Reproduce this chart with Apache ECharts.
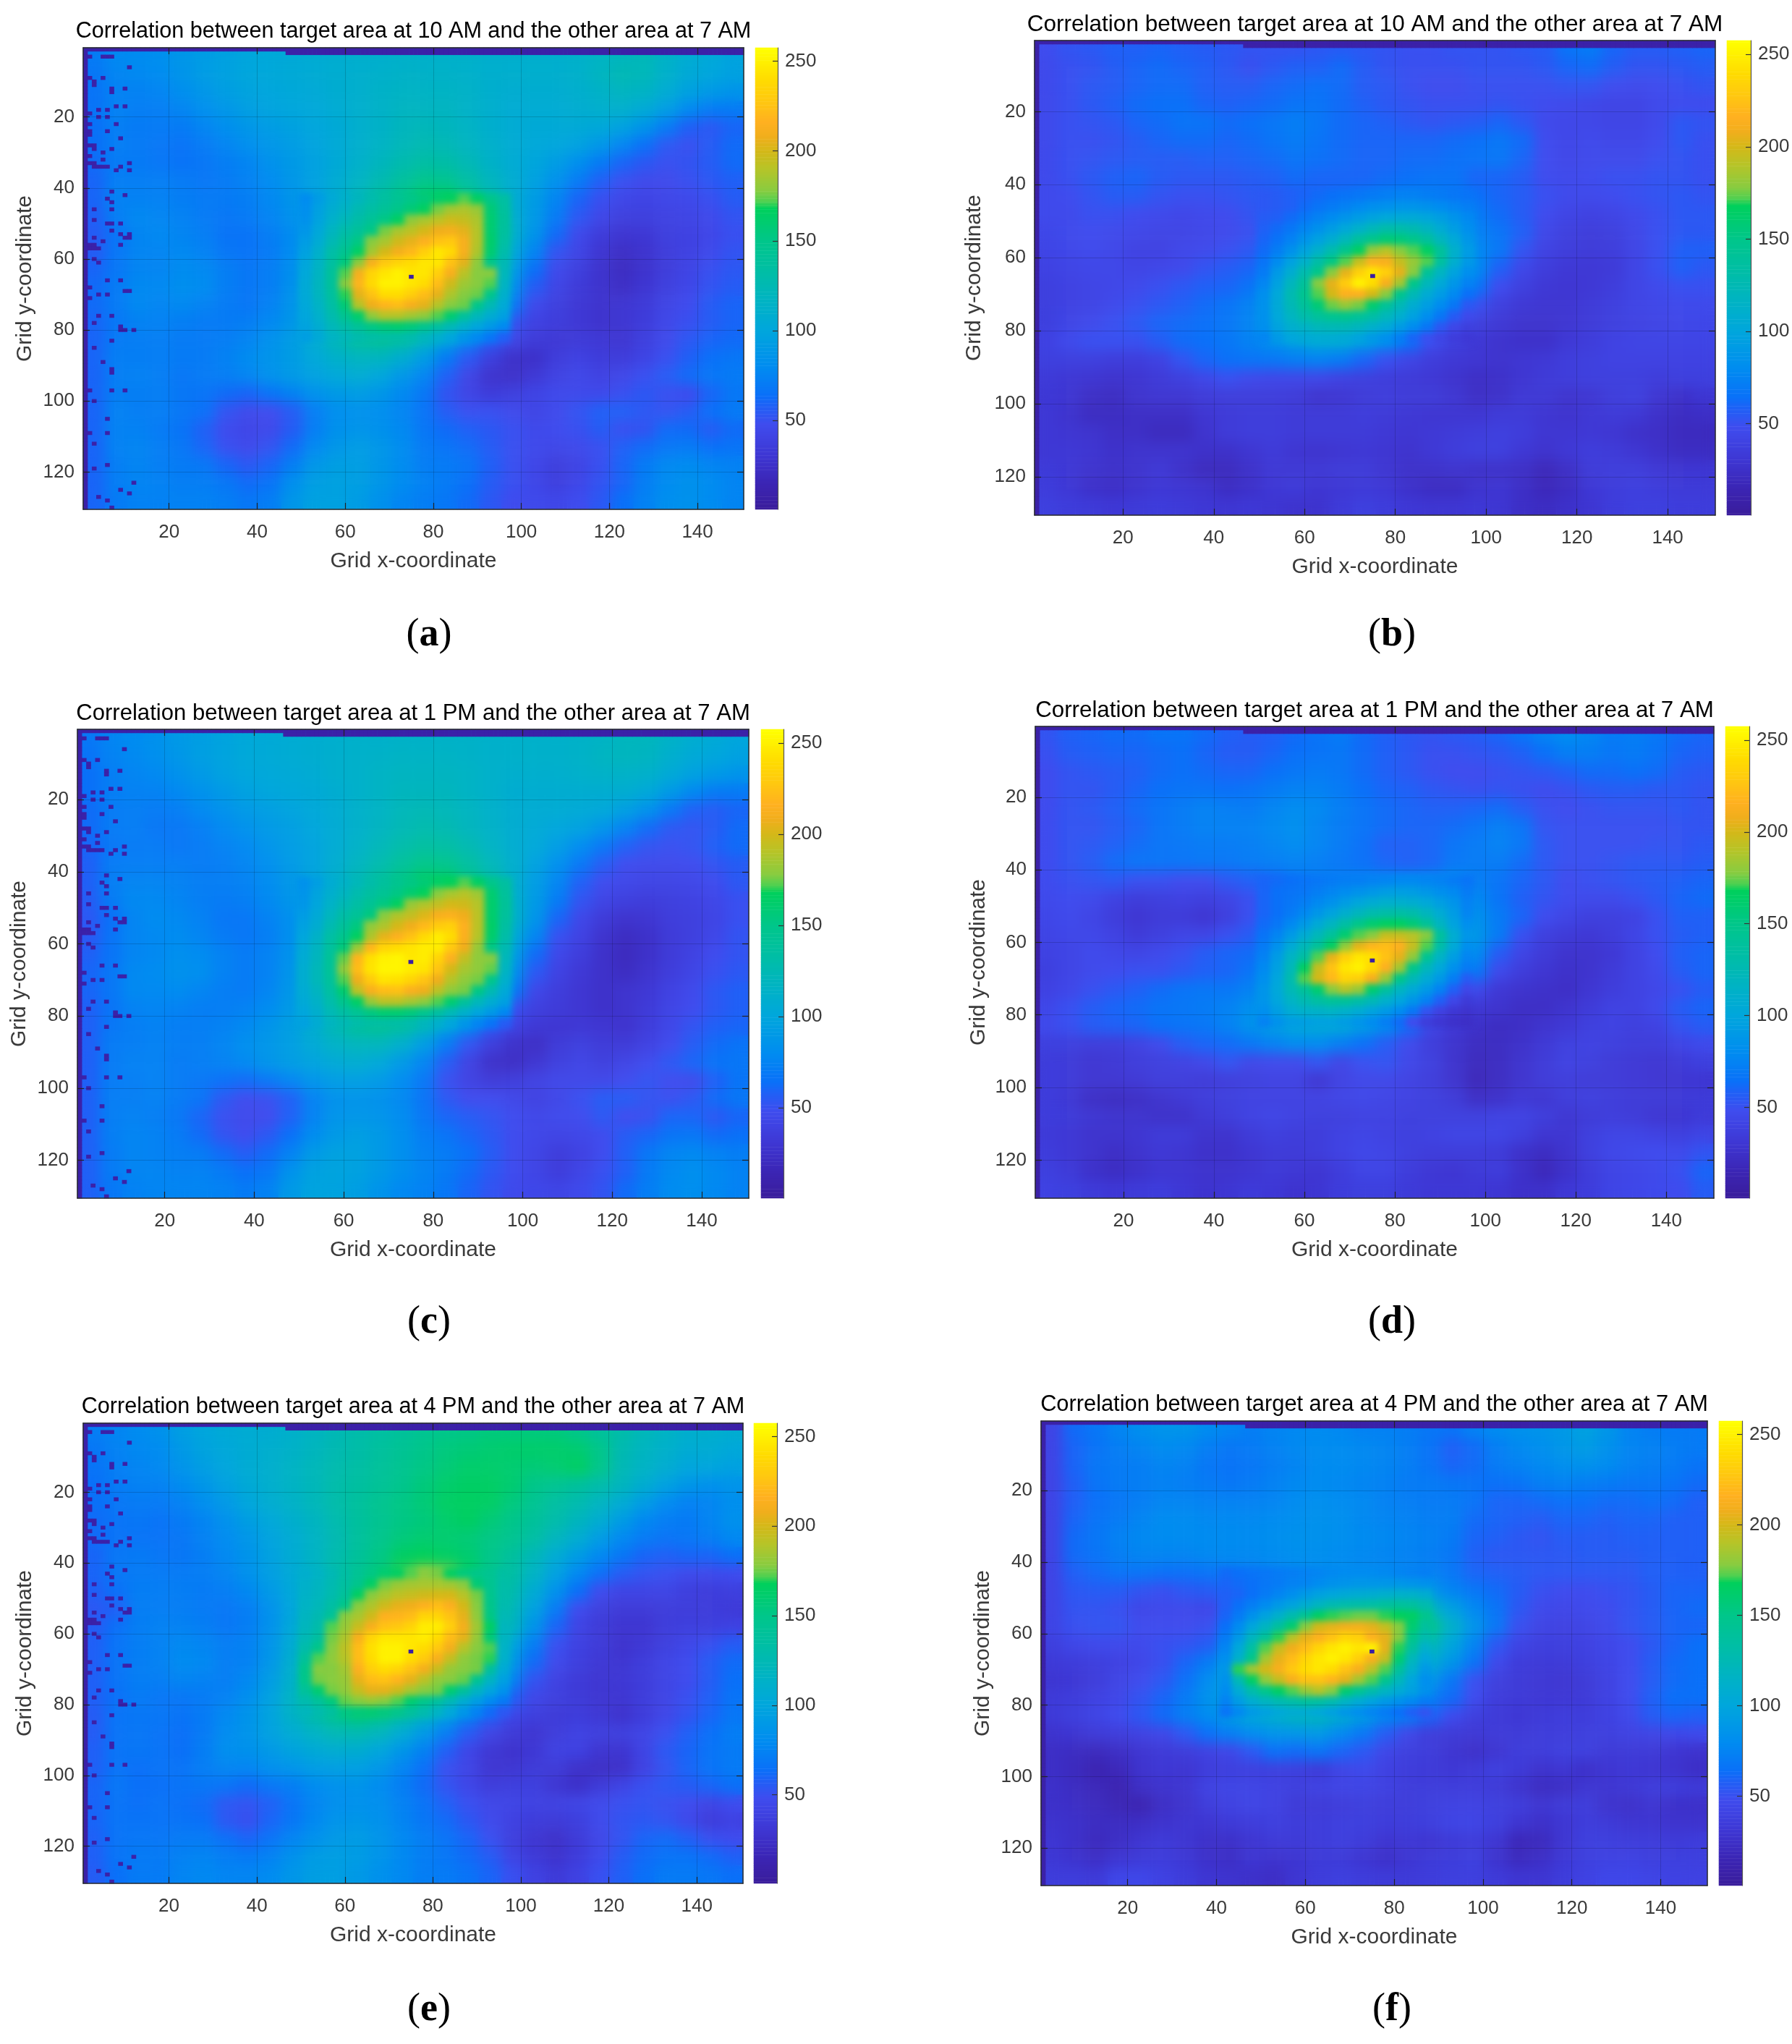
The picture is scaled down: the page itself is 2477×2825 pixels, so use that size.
<!DOCTYPE html>
<html><head><meta charset="utf-8"><style>html,body{margin:0;padding:0;background:#fff}#c{width:2477px;height:2825px}</style>
<script src="https://cdn.jsdelivr.net/npm/echarts@6/dist/echarts.min.js"></script></head><body><div id="c"></div>
<script>
// Coarse readings: one value per 5x5 grid units (30 columns, 26 rows).
const baseA=[
[70,78,80,82,88,92,96,100,102,104,106,108,110,110,112,112,112,112,110,110,110,110,112,116,120,122,114,106,102,98],
[68,76,78,80,86,92,96,100,102,104,106,108,110,112,114,114,114,112,110,110,110,110,112,118,124,122,112,104,100,96],
[66,74,74,76,82,88,94,98,100,102,104,108,110,114,116,116,116,114,110,108,108,108,110,114,118,116,106,96,90,86],
[66,74,72,72,76,82,88,94,98,100,102,106,110,114,118,118,118,114,110,106,106,106,108,110,110,104,92,78,70,70],
[64,72,70,70,70,76,82,88,92,96,100,104,110,114,120,122,120,116,110,106,104,104,104,102,96,86,70,58,54,60],
[64,72,70,68,66,70,76,82,88,92,98,104,110,116,122,126,124,118,112,106,102,100,96,88,76,64,54,50,56,62],
[62,70,70,68,66,68,72,76,84,90,96,104,112,120,128,134,132,124,114,106,100,92,82,70,60,54,50,52,56,62],
[60,72,72,72,70,68,70,74,80,88,96,106,116,126,138,148,146,134,120,108,96,84,70,58,50,46,46,50,54,58],
[60,74,74,74,72,70,70,72,78,86,96,108,122,136,150,162,165,148,128,108,92,76,60,50,44,42,44,46,50,56],
[58,72,78,76,74,70,68,70,76,84,94,110,128,148,165,178,182,162,134,110,90,70,54,44,38,38,40,42,46,52],
[56,66,76,78,76,72,66,66,72,80,94,112,136,160,182,205,195,170,138,112,86,62,46,36,30,32,38,40,44,50],
[56,68,76,76,78,74,68,66,70,80,96,118,144,178,196,220,205,178,136,104,76,52,42,30,24,28,36,40,46,52],
[60,68,76,76,80,78,72,68,72,82,100,124,160,215,240,230,200,165,128,94,64,46,38,28,22,28,36,42,50,54],
[62,70,78,78,82,80,72,68,72,84,102,128,170,225,245,225,190,170,122,84,56,42,34,28,24,30,38,44,52,56],
[62,70,78,76,78,74,70,68,74,86,102,128,176,205,212,190,165,138,100,70,46,38,32,28,30,34,42,48,56,60],
[60,68,74,74,72,70,70,72,78,88,104,126,154,176,170,152,130,104,78,52,40,36,32,28,30,36,44,50,56,60],
[60,70,72,72,70,70,72,76,84,92,106,122,136,140,132,116,96,76,56,42,34,32,34,32,30,38,46,54,60,62],
[60,72,72,72,70,70,74,80,86,92,102,112,118,118,108,92,70,54,38,26,26,36,40,36,36,42,50,58,64,68],
[60,72,74,72,68,70,72,76,84,90,96,102,106,100,88,76,58,42,28,26,32,40,44,40,44,50,56,62,68,70],
[60,72,72,72,68,66,62,60,66,74,84,90,92,88,78,68,52,42,36,38,42,46,46,46,50,54,50,48,60,68],
[60,74,72,72,68,64,52,46,48,56,72,82,84,82,76,66,56,50,50,46,42,46,52,58,58,54,52,56,64,70],
[60,74,74,70,66,58,48,44,46,56,72,84,86,84,78,68,62,58,54,50,46,48,50,56,50,52,62,62,56,62],
[60,74,76,72,68,60,50,46,52,62,78,88,92,88,80,70,66,62,56,50,46,44,46,50,58,62,68,70,64,66],
[60,72,76,72,70,68,60,54,60,72,88,94,94,88,80,72,70,66,58,50,44,38,42,50,60,70,78,80,76,74],
[60,72,76,74,72,72,68,62,66,82,94,96,94,88,80,74,70,64,56,50,44,38,44,52,60,72,80,84,80,76],
[60,70,74,74,74,74,72,68,72,88,96,96,92,84,76,72,68,62,54,48,46,44,48,54,64,74,82,84,80,76]];
const baseB=[
[48,52,54,58,58,60,58,56,54,52,52,52,54,56,54,52,50,50,52,52,52,54,56,66,70,60,56,56,58,60],
[46,50,52,56,60,62,60,58,54,50,54,58,58,62,56,52,50,50,50,52,52,52,54,60,62,56,52,52,54,56],
[46,50,54,56,60,62,62,58,56,56,60,62,64,62,56,54,50,48,48,50,50,50,50,52,52,48,46,48,50,52],
[46,50,54,58,62,64,64,60,58,60,62,66,66,62,58,54,52,50,50,50,52,50,48,46,44,42,42,46,48,48],
[46,50,52,54,60,62,66,66,62,64,68,72,68,62,60,58,54,52,54,56,60,54,46,44,44,42,42,46,54,52],
[46,50,50,52,56,60,62,62,60,62,66,70,66,62,60,60,60,60,62,64,68,62,48,44,46,44,44,48,54,50],
[46,50,52,54,56,56,56,58,58,60,62,66,64,62,60,60,62,62,64,66,68,60,48,44,46,46,46,50,52,50],
[46,50,54,58,60,56,54,54,54,56,58,62,60,60,60,62,64,66,66,60,60,56,48,46,48,50,50,52,52,50],
[46,48,52,56,56,52,50,50,52,54,56,58,60,62,66,70,72,70,68,64,60,56,50,46,46,48,50,52,54,52],
[46,46,50,50,48,46,44,46,48,52,54,56,62,72,82,88,90,86,80,70,62,56,48,42,40,42,46,50,54,54],
[44,46,48,46,44,42,42,44,46,50,54,60,72,84,100,118,120,108,90,74,66,58,44,38,36,38,44,50,54,54],
[42,44,46,44,40,40,44,46,50,54,60,72,92,118,165,172,172,135,100,78,68,52,40,36,34,36,42,50,58,58],
[40,42,44,44,42,44,46,52,56,60,70,88,125,180,225,220,185,135,100,78,58,44,36,32,32,34,42,50,58,54],
[38,40,42,44,46,50,54,58,60,66,80,105,155,215,240,205,150,115,88,66,48,38,32,30,32,36,42,46,50,50],
[38,40,42,46,50,54,58,62,66,74,90,112,160,195,180,145,112,90,70,50,38,32,30,30,34,38,42,44,46,46],
[38,42,46,50,54,60,62,64,68,76,88,105,125,135,125,110,88,68,50,38,32,28,28,30,34,38,40,42,44,44],
[40,46,50,50,50,56,62,64,68,74,82,92,102,102,92,80,64,48,38,32,28,26,26,32,36,40,42,42,42,42],
[38,38,38,36,36,40,52,60,64,66,68,72,74,70,60,50,42,36,32,30,28,30,32,36,38,40,40,40,40,40],
[34,32,30,28,30,34,38,44,50,46,44,44,44,40,38,36,34,32,28,24,26,30,34,36,38,38,38,36,38,38],
[32,30,24,22,28,30,30,34,36,36,36,34,28,30,34,36,34,34,30,24,26,32,32,28,30,36,38,30,26,30],
[32,28,22,22,24,24,24,30,34,36,36,34,34,34,36,34,32,30,30,30,34,34,30,28,32,34,32,26,22,24],
[32,30,28,24,24,20,20,28,34,36,36,34,34,34,34,32,30,32,34,36,38,36,30,30,32,30,26,24,20,20],
[32,32,30,26,28,28,28,26,26,30,34,30,28,30,32,30,28,32,36,38,38,32,28,32,36,34,30,26,22,22],
[34,32,28,26,28,32,26,20,20,26,32,32,32,34,34,30,26,26,28,26,26,24,18,24,34,36,36,32,30,30],
[36,32,26,24,28,32,30,28,22,26,32,34,30,32,34,32,26,22,22,28,30,24,18,22,32,36,38,36,34,34],
[38,36,34,32,34,36,34,32,30,32,30,28,28,34,38,36,32,30,30,32,30,24,22,26,30,36,38,38,36,36]];
const baseC=[
[68,76,80,84,90,94,98,102,104,106,108,110,112,112,114,114,114,114,112,112,112,112,114,116,120,120,114,108,104,100],
[66,74,78,82,88,94,98,102,104,106,108,110,112,114,116,116,116,114,112,112,112,112,114,118,120,118,110,104,100,96],
[64,72,76,78,84,90,96,100,102,104,106,110,112,116,118,118,118,116,112,110,110,110,112,114,114,112,104,96,90,86],
[64,72,74,74,78,84,90,96,100,102,104,108,112,116,120,120,120,116,112,108,108,108,108,108,108,102,90,78,70,70],
[62,70,72,70,72,78,84,90,94,98,102,106,112,116,122,124,122,118,112,108,106,106,104,102,94,84,68,58,56,60],
[62,70,72,68,68,72,78,84,90,94,100,106,112,118,124,128,126,120,114,108,104,100,96,86,74,62,54,52,56,62],
[60,68,70,70,68,70,74,78,86,92,98,106,114,122,130,136,134,126,116,108,102,92,80,68,58,52,50,52,58,62],
[58,70,72,72,72,70,72,76,82,90,98,108,118,128,140,150,148,136,122,110,96,82,68,56,48,46,46,48,52,56],
[58,72,76,76,74,72,72,74,80,88,98,110,124,138,152,165,165,150,130,110,92,76,58,48,44,42,42,44,48,54],
[56,70,78,78,76,72,70,72,78,86,96,112,130,150,168,180,184,165,136,112,90,70,52,42,38,36,38,40,44,50],
[54,64,76,80,78,74,68,68,74,82,96,114,138,162,184,208,198,172,140,114,86,60,44,34,28,30,36,38,42,50],
[54,66,76,78,80,76,70,68,72,82,98,120,146,180,198,222,208,178,138,104,76,50,40,28,22,26,34,38,44,52],
[58,66,76,78,82,80,74,70,74,84,102,126,162,218,242,232,202,168,130,94,62,44,36,26,20,26,34,40,48,52],
[60,68,78,80,84,82,74,70,74,86,104,130,172,228,248,228,192,172,124,84,54,40,32,26,22,28,36,42,50,54],
[60,68,78,78,80,76,72,70,76,88,104,130,178,208,214,192,168,140,100,70,44,36,30,26,28,32,40,46,54,58],
[58,66,74,76,74,72,72,74,80,90,106,128,156,178,172,154,132,104,78,50,38,34,30,26,28,34,42,48,54,58],
[58,68,72,74,72,72,74,78,86,94,108,124,138,142,134,118,96,76,54,40,32,30,32,30,28,36,44,52,58,60],
[58,70,72,74,72,72,76,82,88,94,104,114,120,120,110,92,70,52,36,26,24,34,38,34,34,40,48,56,62,66],
[58,70,74,74,70,72,74,78,86,92,98,104,108,102,90,76,56,40,26,24,30,38,42,38,42,48,54,60,66,68],
[58,70,72,74,70,68,64,62,68,76,86,92,94,90,80,68,50,40,34,36,40,44,44,44,48,52,48,46,58,66],
[58,72,72,74,70,66,54,48,50,58,74,84,86,84,78,66,54,48,48,44,40,44,50,56,56,52,50,54,62,68],
[58,72,74,72,68,60,50,46,48,58,74,86,88,86,80,68,60,56,52,48,44,46,48,54,48,50,60,60,54,60],
[58,72,76,74,70,62,52,48,54,64,80,90,94,90,82,72,66,60,54,48,44,42,44,48,56,60,66,68,62,64],
[58,70,76,74,72,70,62,56,62,74,90,96,96,90,82,74,70,64,56,48,42,36,40,48,58,68,76,78,74,72],
[58,70,76,76,74,74,70,64,68,84,96,98,96,90,82,76,70,62,54,48,42,36,42,50,58,70,78,82,78,74],
[58,68,74,76,76,76,74,70,74,90,98,98,94,86,78,74,68,60,52,46,44,42,46,52,62,72,80,82,78,74]];
const baseD=[
[52,58,60,62,62,66,66,62,58,56,58,62,66,70,62,58,54,52,54,56,60,66,74,80,76,70,72,68,62,60],
[50,56,58,60,60,62,64,60,56,56,60,64,66,68,62,58,54,50,50,52,54,58,64,72,72,68,70,66,60,58],
[48,52,54,56,58,62,64,62,60,60,64,68,70,68,62,58,54,50,48,48,50,52,54,58,62,62,64,62,56,54],
[48,52,52,56,60,64,66,66,64,66,70,74,74,70,64,60,58,54,52,50,52,50,48,50,54,56,56,54,54,52],
[48,52,54,58,62,66,70,74,72,70,76,80,78,72,66,62,60,58,58,60,62,56,50,48,50,52,52,52,54,52],
[48,52,52,56,60,66,70,74,74,74,78,82,76,70,66,62,60,60,62,66,72,66,52,50,50,50,50,50,52,52],
[48,52,54,58,62,66,68,70,70,72,76,80,76,70,64,58,58,60,66,70,74,68,54,50,50,50,50,52,52,54],
[48,52,56,62,66,66,66,68,68,70,72,74,72,68,64,60,58,60,68,70,70,62,54,50,50,52,54,54,54,56],
[48,50,52,54,50,50,48,48,54,58,62,68,72,72,74,74,76,76,78,72,66,60,54,48,50,52,54,56,58,60],
[46,48,46,40,36,38,40,38,42,50,56,62,72,78,84,88,90,90,88,78,66,58,52,48,46,46,50,54,60,62],
[44,46,42,36,30,34,34,30,38,50,58,68,80,92,108,122,125,120,104,84,70,60,48,42,38,38,40,50,58,58],
[42,44,44,40,34,38,42,42,50,56,66,82,102,130,165,176,178,150,108,88,70,50,38,34,32,36,42,50,56,58],
[40,42,46,44,42,46,50,56,60,62,74,98,140,200,225,220,190,135,104,80,56,42,34,28,28,32,40,48,58,60],
[38,42,46,48,50,50,54,58,60,66,84,118,178,230,232,205,150,118,92,68,46,36,30,26,28,34,40,46,56,60],
[40,44,50,54,58,62,66,68,68,74,90,122,170,190,175,140,112,92,70,46,32,28,26,24,30,36,40,44,50,56],
[44,50,56,60,62,66,68,70,74,82,94,112,130,136,122,108,90,70,46,32,28,24,24,28,34,40,40,46,56,60],
[46,50,56,58,60,64,66,68,74,84,92,100,104,102,92,80,62,42,32,26,22,24,28,32,38,40,38,40,52,56],
[38,38,36,36,40,46,56,60,62,68,74,80,80,72,64,56,46,36,28,22,22,26,32,38,40,38,36,36,42,46],
[36,34,30,32,36,38,40,44,52,44,46,46,52,42,50,52,44,38,28,20,22,28,34,40,38,34,32,30,34,38],
[36,34,30,30,32,36,36,34,36,38,40,40,30,40,44,44,40,36,28,18,22,28,34,36,34,34,32,30,30,30],
[36,32,24,22,24,28,32,36,38,40,40,40,40,42,44,42,40,38,34,24,26,32,30,36,38,36,34,34,34,34],
[36,34,30,28,28,26,26,32,36,40,42,40,38,38,40,40,38,38,38,38,40,40,36,30,34,36,34,30,30,34],
[34,32,28,28,30,34,34,28,28,34,38,36,36,40,42,40,38,40,42,42,42,38,30,30,38,42,42,40,38,42],
[36,32,28,24,28,32,30,26,26,30,34,34,36,40,44,42,38,36,36,36,34,26,22,28,38,44,46,48,46,52],
[38,34,26,22,26,30,30,28,28,30,34,32,30,36,42,42,36,32,30,34,36,26,18,26,36,42,44,46,50,60],
[40,38,34,32,34,36,32,28,30,34,32,28,30,36,38,38,34,32,32,32,30,26,26,32,36,42,44,46,48,56]];
const baseE=[
[72,76,80,84,94,100,104,106,108,112,118,124,130,135,140,145,150,152,155,155,155,155,150,140,130,122,116,110,110,108],
[68,74,78,80,90,98,102,106,110,114,120,126,132,138,144,150,155,158,160,162,162,162,160,150,126,118,112,106,106,102],
[66,72,76,78,86,94,100,106,110,116,122,128,134,140,146,152,158,162,162,160,158,160,165,150,124,116,108,100,100,96],
[64,70,74,74,80,88,96,104,110,116,122,130,136,142,148,156,162,165,165,160,150,145,138,130,120,108,96,88,84,86],
[64,68,70,70,74,82,90,100,108,114,122,130,138,146,152,158,165,166,165,155,145,135,128,118,106,92,80,74,76,82],
[62,66,68,66,70,76,84,94,102,110,118,128,138,146,152,156,162,166,158,150,140,130,120,108,92,78,72,70,76,84],
[62,66,66,66,68,74,80,88,98,106,116,126,138,148,156,160,160,158,152,146,134,120,108,92,78,70,66,68,72,78],
[60,68,70,68,68,72,78,86,96,106,116,128,140,152,165,168,165,160,150,138,122,106,92,78,68,60,58,60,60,64],
[60,68,70,70,70,72,76,84,94,104,116,130,144,156,170,178,175,165,150,134,116,96,78,64,56,52,50,46,46,48],
[58,64,72,72,72,70,72,78,90,102,116,132,148,165,185,190,190,175,150,128,106,84,64,48,42,42,42,38,36,38],
[54,58,72,72,72,70,68,72,84,100,118,140,165,188,205,215,205,178,148,122,96,70,48,38,34,34,36,36,36,34],
[56,64,72,74,74,72,68,72,84,102,124,150,178,210,225,240,215,182,150,118,86,60,42,34,30,30,36,38,38,40],
[58,66,72,74,78,76,72,74,86,106,128,155,195,240,250,240,205,172,135,100,72,50,40,34,28,32,38,44,50,56],
[58,66,72,74,80,78,72,74,88,110,135,165,205,240,245,220,190,172,125,90,62,46,38,32,30,36,42,48,56,62],
[58,66,72,72,76,74,72,78,92,112,140,176,210,222,210,190,172,135,105,76,52,40,34,30,32,36,42,48,56,64],
[58,64,70,68,68,70,74,82,96,116,138,166,192,195,182,160,132,108,82,58,44,38,34,30,30,36,42,50,58,66],
[56,66,68,68,66,70,78,86,98,114,130,146,156,150,132,116,96,76,58,44,38,34,36,32,28,36,44,52,60,68],
[56,66,68,66,64,70,80,86,96,106,116,124,126,120,106,90,72,56,42,34,30,36,40,38,38,42,50,58,64,72],
[58,66,68,66,64,72,82,84,90,98,104,108,108,100,88,74,58,44,32,28,32,40,40,30,30,42,54,60,66,70],
[58,66,64,66,66,72,76,76,82,86,92,94,94,88,76,64,50,42,30,30,34,34,26,24,26,40,52,60,66,70],
[60,68,64,64,66,68,66,62,68,72,80,84,86,80,72,62,52,44,36,38,38,30,26,34,42,50,54,56,60,64],
[60,66,64,66,64,62,54,52,58,66,76,82,84,82,74,66,58,50,44,42,40,40,42,46,50,52,50,48,42,48],
[60,66,66,66,66,64,54,50,60,68,78,86,88,84,76,68,62,54,46,40,36,34,38,46,52,54,52,46,36,40],
[58,66,68,68,70,70,64,60,66,76,84,90,92,86,78,72,66,60,50,38,30,26,34,44,52,60,62,58,50,48],
[58,66,70,70,74,76,72,70,74,84,92,94,92,86,78,72,68,62,56,42,34,28,36,46,56,62,66,66,62,58],
[56,64,70,70,76,78,76,76,80,88,94,94,90,84,78,72,70,66,60,50,40,34,40,50,58,64,70,70,68,64]];
const baseF=[
[42,62,68,76,82,86,86,80,76,72,76,78,80,78,74,74,72,68,66,74,80,84,86,90,96,88,76,72,70,70],
[42,60,66,72,76,80,78,72,68,70,74,78,80,80,78,76,72,66,58,62,72,78,82,88,92,84,76,74,72,70],
[42,60,68,70,72,76,74,68,66,68,72,76,80,80,78,76,72,66,60,62,70,74,78,82,84,80,74,72,70,66],
[42,58,66,70,72,74,72,70,68,70,74,78,80,78,76,74,70,70,68,66,64,66,72,74,72,70,68,68,66,62],
[42,58,64,68,72,76,76,74,74,74,76,80,82,80,78,74,72,70,70,66,60,60,62,64,64,62,62,64,62,58],
[42,60,66,70,76,80,80,78,78,78,80,82,84,82,78,76,74,72,72,62,60,58,56,60,60,58,60,60,58,58],
[42,62,68,74,78,80,80,80,80,80,82,84,84,82,80,78,76,74,70,60,58,54,52,56,56,56,58,58,58,58],
[42,62,66,72,76,76,76,78,78,78,80,82,82,80,78,76,74,72,68,58,54,54,54,54,56,56,56,58,58,58],
[42,58,62,66,66,64,64,66,70,72,76,78,80,80,78,78,76,74,68,60,58,56,54,54,54,54,54,58,58,58],
[42,54,56,56,52,50,54,56,60,66,72,78,84,88,90,92,92,88,76,68,62,56,50,48,48,50,52,56,60,60],
[42,52,52,50,44,46,46,44,52,66,76,88,102,114,122,130,130,120,96,78,66,54,46,44,46,48,52,56,60,62],
[42,50,52,52,48,48,48,50,60,74,96,130,165,178,178,170,170,150,112,86,68,50,42,40,42,46,52,56,60,60],
[38,44,46,46,46,50,52,56,72,105,160,208,225,238,240,215,150,125,100,76,54,42,38,38,40,44,48,54,60,64],
[34,36,38,40,44,50,60,70,90,140,195,235,250,245,225,175,130,108,88,66,46,36,34,34,38,42,48,56,62,64],
[30,32,36,42,48,54,64,80,100,135,180,225,225,205,160,125,104,88,68,50,38,34,32,30,34,40,48,56,62,64],
[34,36,40,44,52,60,70,84,100,118,140,160,160,148,122,100,82,72,62,48,36,34,32,32,34,40,48,58,64,64],
[34,38,42,48,54,62,72,80,92,102,110,118,120,108,94,78,72,60,48,38,34,32,34,36,36,40,46,56,60,58],
[28,30,34,36,40,44,54,64,72,80,86,88,90,78,68,56,44,36,34,32,34,34,36,36,38,38,40,42,44,46],
[24,22,20,24,30,34,36,40,44,54,64,62,66,60,54,44,38,36,30,26,30,36,36,38,38,34,34,34,30,28],
[24,20,14,18,28,32,30,36,38,38,38,38,34,42,46,40,36,34,32,34,38,34,28,30,26,30,32,30,28,24],
[26,22,18,14,24,28,30,40,42,42,40,38,40,42,42,40,36,36,36,36,34,28,22,24,30,30,32,36,36,34],
[26,24,20,16,14,24,28,36,40,42,40,34,34,36,38,36,36,38,40,40,38,36,30,34,36,28,26,30,26,26],
[28,26,22,22,24,28,30,30,34,36,38,36,36,38,38,36,36,38,42,42,38,30,26,30,36,34,30,30,28,28],
[30,26,20,24,30,34,30,26,26,30,34,34,36,38,36,30,32,30,34,36,30,18,20,30,38,38,36,36,34,36],
[32,28,24,30,34,36,32,26,24,30,28,30,34,34,30,26,30,34,36,38,28,20,24,32,38,40,40,38,38,38],
[36,36,34,44,44,40,36,30,28,26,24,30,36,38,36,34,34,36,38,38,34,30,30,36,40,44,44,42,40,40]];

// Finer readings round each peak: one value per 3x3 grid units (16 columns, 14 rows).
const peakA=[
[80,92,104,112,120,128,136,144,150,156,162,166,172,165,150,135],
[82,96,108,116,126,134,142,150,158,166,176,185,188,182,158,138],
[84,98,112,122,132,142,152,165,180,186,192,198,196,188,160,140],
[88,102,118,130,140,152,176,186,192,200,208,210,205,190,160,138],
[92,106,124,138,152,178,186,198,205,215,225,228,212,190,162,135],
[96,112,132,146,165,185,200,210,220,232,245,238,212,188,160,130],
[100,116,136,155,180,212,228,235,240,245,245,225,205,180,150,125],
[102,118,140,172,212,235,245,250,245,245,232,212,192,178,178,122],
[104,120,140,178,218,238,250,250,245,240,222,198,184,178,172,118],
[104,120,138,170,205,225,240,240,232,222,205,188,178,175,150,112],
[102,116,134,158,190,208,218,222,212,205,190,178,175,150,125,105],
[100,112,128,146,162,180,190,190,185,180,172,160,140,122,108,96],
[98,108,122,132,142,152,158,160,156,148,136,124,112,100,90,80],
[94,104,116,122,128,132,134,132,128,120,110,100,88,78,68,58]];
const peakB=[
[54,56,58,60,62,64,66,68,70,72,74,74,72,70,68,66],
[54,56,58,62,66,70,74,78,82,84,86,86,84,80,76,72],
[56,58,62,68,74,80,86,92,98,102,104,104,100,94,86,78],
[58,62,68,76,84,92,102,112,122,130,130,126,118,106,94,82],
[60,66,74,86,96,108,122,138,150,158,156,150,138,120,104,88],
[62,72,84,98,112,128,148,165,182,190,178,172,165,140,112,92],
[66,80,96,112,132,152,172,195,215,212,195,182,172,138,110,90],
[70,90,108,128,150,178,205,232,245,232,205,178,142,118,98,82],
[76,96,120,140,178,205,230,250,240,212,185,150,122,104,88,74],
[82,102,126,146,172,200,215,215,200,178,148,124,106,92,78,64],
[84,104,124,140,158,175,182,176,160,142,124,108,94,80,68,54],
[84,102,118,130,140,146,148,142,134,122,110,96,82,68,56,46],
[82,98,110,116,122,124,124,120,112,104,92,80,68,54,44,38],
[76,90,100,104,106,106,104,98,90,82,72,60,50,42,36,32]];
const peakC=[
[84,94,106,114,122,130,138,146,152,158,164,168,172,165,150,136],
[86,98,110,118,128,136,144,152,160,168,178,186,190,184,160,140],
[88,100,114,124,134,144,154,166,182,188,194,200,198,190,162,142],
[92,104,120,132,142,154,178,188,194,202,212,214,208,192,162,140],
[96,108,126,140,154,180,188,200,208,220,230,232,215,192,164,136],
[100,114,134,148,166,188,205,215,225,238,248,240,214,190,162,132],
[104,118,138,156,182,218,235,240,244,248,248,228,208,182,152,126],
[106,120,142,174,218,242,250,252,246,248,235,215,194,180,178,122],
[108,122,142,180,222,244,252,252,248,244,226,200,186,180,174,118],
[108,122,140,172,208,230,244,242,236,226,208,190,180,176,150,112],
[106,118,136,160,192,212,222,224,214,208,192,180,176,152,126,104],
[104,114,130,148,164,182,192,192,186,180,172,160,140,122,108,96],
[100,110,124,134,144,154,160,160,156,148,136,124,112,100,90,78],
[96,106,118,124,130,134,134,132,128,120,110,100,88,76,66,56]];
const peakD=[
[60,62,64,66,68,70,72,72,74,76,78,78,76,74,70,66],
[60,64,66,68,72,76,80,84,88,92,94,92,88,82,78,70],
[60,64,68,72,78,84,92,100,106,110,110,108,102,94,86,74],
[60,64,70,78,88,98,110,120,128,132,134,130,120,106,92,76],
[62,68,78,90,104,118,134,150,160,166,166,158,142,118,98,82],
[66,76,90,106,122,140,160,172,178,195,195,190,178,138,108,88],
[70,84,104,122,140,165,180,205,218,222,215,195,172,132,104,82],
[74,92,116,134,172,205,232,245,242,225,205,180,145,116,94,76],
[78,96,122,165,195,225,245,250,238,215,185,150,122,102,84,70],
[82,100,128,172,200,220,235,232,212,182,150,124,106,90,72,56],
[86,102,124,140,160,178,190,182,160,138,118,104,90,74,58,44],
[86,100,116,126,136,142,142,134,124,112,100,88,74,58,44,34],
[82,94,106,112,114,116,112,106,98,90,80,68,52,40,32,28],
[74,84,92,94,96,96,92,86,80,72,62,48,36,30,26,24]];
const peakE=[
[110,116,124,134,144,152,160,165,172,178,176,165,155,150,145,135],
[112,118,126,136,148,164,176,182,185,186,186,184,178,158,146,132],
[114,120,128,140,165,178,186,192,195,198,200,200,190,176,148,130],
[116,122,134,150,178,188,198,205,208,215,222,215,200,178,150,128],
[118,126,142,178,186,198,215,218,222,235,235,225,205,180,152,124],
[120,130,172,182,196,212,225,228,235,248,248,232,210,184,165,120],
[124,136,176,188,212,235,245,245,245,248,240,222,205,182,158,118],
[130,150,178,192,222,242,250,250,245,240,228,210,190,178,172,115],
[140,172,180,190,222,240,250,250,240,230,212,195,180,176,170,112],
[150,178,178,185,215,232,240,235,225,210,196,182,178,176,138,105],
[150,176,178,182,205,222,225,218,205,192,180,178,174,145,118,96],
[140,160,176,180,195,205,205,198,186,178,176,160,140,118,100,85],
[128,140,155,174,178,182,178,172,160,150,138,124,108,94,80,70],
[120,128,136,152,156,158,154,148,138,128,116,102,88,74,62,54]];
const peakF=[
[62,64,66,68,70,72,74,76,78,80,80,80,78,76,74,72],
[60,62,64,68,70,74,76,80,84,86,88,88,88,88,86,84],
[58,60,64,70,76,82,90,96,100,104,106,108,110,112,112,108],
[58,64,72,80,90,98,108,118,126,130,132,134,138,140,138,128],
[60,70,84,98,112,128,145,165,170,172,175,175,170,168,165,148],
[64,80,100,118,138,160,178,200,205,210,210,205,195,178,160,138],
[70,90,118,140,170,190,205,215,225,235,232,215,205,178,150,128],
[76,102,135,172,195,208,222,235,245,250,245,250,205,170,138,112],
[82,112,150,185,205,222,235,245,250,245,232,212,195,160,122,100],
[88,170,185,200,212,228,240,245,240,225,212,192,172,140,112,90],
[84,125,165,180,195,212,225,225,218,205,185,172,148,122,100,82],
[80,106,130,150,165,172,182,190,178,160,145,130,118,106,96,84],
[74,92,108,118,126,132,138,136,128,116,106,98,90,84,78,70],
[66,78,90,96,102,106,106,102,96,88,82,76,70,64,58,52]];

// Isolated very low cells in the left strip of panels a, c, e: [x, y].
const lowCells=[[2,3],[5,3],[6,3],[7,3],[11,6],[2,9],[5,9],[3,10],[3,11],[7,12],[7,13],[10,12],[8,17],[10,17],[4,18],[6,18],[2,19],[4,20],[6,20],[2,22],[8,22],[2,24],[2,25],[6,24],[9,26],[2,28],[3,28],[3,29],[7,29],[5,30],[2,31],[5,32],[11,33],[2,33],[3,33],[3,34],[4,34],[5,34],[6,34],[9,34],[8,35],[11,35],[7,41],[10,42],[6,43],[7,44],[3,46],[7,46],[3,49],[6,50],[7,50],[9,50],[7,52],[9,53],[11,53],[3,54],[5,55],[10,54],[11,54],[9,56],[2,56],[3,56],[4,57],[2,57],[3,57],[3,60],[4,61],[6,66],[9,66],[2,68],[10,69],[11,69],[6,70],[4,70],[2,71],[4,76],[7,76],[3,78],[9,79],[10,80],[9,80],[12,80],[7,83],[3,85],[5,89],[7,91],[7,92],[10,97],[7,97],[2,97],[3,100],[6,105],[2,109],[6,109],[3,112],[3,119],[6,118],[9,125],[12,123],[11,126],[4,127],[6,128],[7,130]];
const targetCell=[75,65];
const lowValue=8, targetValue=4, topBandStart=47;

const titles=['Correlation between target area at 10 AM and the other area at 7 AM','Correlation between target area at 10 AM and the other area at 7 AM','Correlation between target area at 1 PM and the other area at 7 AM','Correlation between target area at 1 PM and the other area at 7 AM','Correlation between target area at 4 PM and the other area at 7 AM','Correlation between target area at 4 PM and the other area at 7 AM'];
const letters=['a','b','c','d','e','f'];
const bases=[baseA,baseB,baseC,baseD,baseE,baseF];
const peaks=[peakA,peakB,peakC,peakD,peakE,peakF];
const peakX0=[50,50,50,50,50,41];
const xCats=Array.from({length:150},(_,i)=>String(i+1));
const yCats=Array.from({length:130},(_,i)=>String(i+1));
const cbCats=Array.from({length:257},(_,i)=>String(i+1));
const xTickLabels=[20,40,60,80,100,120,140], yTickLabels=[20,40,60,80,100,120], cbTickLabels=[50,100,150,200,250];

// layout in page pixels
const L=[
{l:115,r:1028,t:66,b:704,cl:1044,cr:1075,ty:44,fs:30.6,sx:593,sy:878,ng:65},
{l:1430,r:2371,t:56,b:712,cl:2387,cr:2420,ty:34,fs:31.5,sx:1924,sy:878,ng:68},
{l:107,r:1035,t:1008,b:1656,cl:1052,cr:1083,ty:986,fs:31.1,sx:593,sy:1828,ng:65},
{l:1431,r:2369,t:1004,b:1656,cl:2385,cr:2418,ty:982,fs:31.3,sx:1924,sy:1828,ng:63},
{l:115,r:1027,t:1967,b:2603,cl:1042,cr:1074,ty:1945,fs:30.6,sx:593,sy:2778,ng:65},
{l:1439,r:2360,t:1964,b:2606,cl:2376,cr:2408,ty:1942,fs:30.8,sx:1924,sy:2778,ng:65}];

const stops=[[1,'#3a1d9c'],[15,'#3b25b4'],[30,'#3e36d2'],[48,'#3f4cee'],[58,'#2060f6'],[64,'#0a70f8'],[80,'#008cf0'],[100,'#00a6dc'],[115,'#00b2c6'],[130,'#00bcaa'],[150,'#00c68a'],[168,'#00d05c'],[172,'#50d050'],[178,'#88cc40'],[190,'#b6c428'],[200,'#d4b818'],[208,'#f0ae1c'],[216,'#ffb020'],[228,'#ffc810'],[240,'#ffdc00'],[257,'#ffff00']];
function hex(c){return [1,3,5].map(i=>parseInt(c.substr(i,2),16));}
const ramp=[];
for(let v=1;v<=257;v++){let k=0;while(k<stops.length-2&&v>stops[k+1][0])k++;const a=stops[k],b=stops[k+1],f=(v-a[0])/(b[0]-a[0]);const A=hex(a[1]),B=hex(b[1]);ramp.push('rgb('+A.map((q,i)=>Math.round(q+(B[i]-q)*f)).join(',')+')');}

function layers(idx){
  const field=[],ring=[],peakCells=[],detail=[],base=bases[idx],peak=peaks[idx],x0=peakX0[idx],noisy=idx%2===0;
  const low=new Set(noisy?lowCells.map(p=>p[0]+'_'+p[1]):[]);
  for(let y=1;y<=130;y++)for(let x=1;x<=150;x++){
    const v=base[Math.floor((y-1)/5)][Math.floor((x-1)/5)];
    field.push([x-1,y-1,v]);
    if(x<=7||x>=144||y<=7||y>=124)ring.push([x-1,y-1,v]);
    const pi=Math.floor((x-x0)/3),pj=Math.floor((y-42)/3);
    if(pi>=0&&pi<16&&pj>=0&&pj<14)peakCells.push([x-1,y-1,peak[pj][pi]]);
    if(x===1||y===1||(y===2&&x>=topBandStart)||low.has(x+'_'+y))detail.push([x-1,y-1,lowValue]);
    if(x===targetCell[0]&&y===targetCell[1])detail.push([x-1,y-1,targetValue]);
  }
  return {field,ring,peakCells,detail};
}
const FONT='"Liberation Sans",Arial,sans-serif',AX='#3a3a3a',ZA=4;
const grid=[],xAxis=[],yAxis=[],series=[],graphic=[];
const catTick=list=>(i,v)=>list.includes(+v);
const hm=(xi,yi,data,zlevel)=>({type:'heatmap',xAxisIndex:xi,yAxisIndex:yi,data,zlevel,progressive:0,silent:true,animation:false,emphasis:{disabled:true}});
L.forEach((p,k)=>{
  const g=grid.length;
  grid.push({left:p.l,top:p.t,width:p.r-p.l,height:p.b-p.t,containLabel:false});
  const line={show:true,lineStyle:{color:'#2b2b2b',width:1.5}};
  const xi=xAxis.length,yi=yAxis.length;
  const split={show:true,alignWithLabel:true,lineStyle:{color:'rgba(0,0,0,0.16)',width:1}};
  const tick=list=>({show:true,inside:true,length:9,alignWithLabel:true,interval:catTick(list),lineStyle:{color:'#222',width:1.2}});
  xAxis.push({type:'category',gridIndex:g,data:xCats,position:'bottom',zlevel:ZA,axisLine:line,axisTick:tick(xTickLabels),
    axisLabel:{show:true,interval:catTick(xTickLabels),margin:19,fontSize:26,color:AX,fontFamily:FONT},
    splitLine:Object.assign({},split,{interval:catTick(xTickLabels)}),
    name:'Grid x-coordinate',nameLocation:'middle',nameGap:57,nameTextStyle:{fontSize:30,color:AX,fontFamily:FONT}});
  xAxis.push({type:'category',gridIndex:g,data:xCats,position:'top',zlevel:ZA,axisLine:line,axisTick:tick(xTickLabels),axisLabel:{show:false},splitLine:{show:false}});
  yAxis.push({type:'category',gridIndex:g,data:yCats,inverse:true,position:'left',zlevel:ZA,axisLine:line,axisTick:tick(yTickLabels),
    axisLabel:{show:true,interval:catTick(yTickLabels),margin:12,fontSize:26,color:AX,fontFamily:FONT},
    splitLine:Object.assign({},split,{interval:catTick(yTickLabels)}),
    name:'Grid y-coordinate',nameLocation:'middle',nameGap:p.ng,nameTextStyle:{fontSize:30,color:AX,fontFamily:FONT}});
  yAxis.push({type:'category',gridIndex:g,data:yCats,inverse:true,position:'right',zlevel:ZA,axisLine:line,axisTick:tick(yTickLabels),axisLabel:{show:false},splitLine:{show:false}});
  const d=layers(k);
  series.push(hm(xi,yi,d.ring,0),hm(xi,yi,d.field,1),hm(xi,yi,d.peakCells,2),hm(xi,yi,d.detail,3));
  // colour bar
  const c=grid.length;
  grid.push({left:p.cl,top:p.t,width:p.cr-p.cl,height:p.b-p.t,containLabel:false});
  const cx=xAxis.length,cy=yAxis.length;
  xAxis.push({type:'category',gridIndex:c,data:['c'],axisLine:{show:false},axisTick:{show:false},axisLabel:{show:false},splitLine:{show:false}});
  yAxis.push({type:'category',gridIndex:c,data:cbCats,position:'right',zlevel:ZA,
    axisLine:{show:true,lineStyle:{color:'#555',width:1.2}},
    axisTick:{show:true,inside:true,length:7,alignWithLabel:true,interval:catTick(cbTickLabels),lineStyle:{color:'#333',width:1.2}},
    axisLabel:{show:true,interval:catTick(cbTickLabels),margin:10,fontSize:26,color:AX,fontFamily:FONT},splitLine:{show:false}});
  series.push(hm(cx,cy,cbCats.map((_,i)=>[0,i,i+1]),0));
  graphic.push({type:'text',x:(p.l+p.r)/2,y:p.ty,z:10,style:{text:titles[k],align:'center',verticalAlign:'middle',font:p.fs+'px '+FONT,fill:'#000'}});
  graphic.push({type:'text',x:p.sx,y:p.sy,z:10,style:{text:'{p|(}{b|'+letters[k]+'}{p|)}',align:'center',verticalAlign:'middle',
    rich:{p:{font:'54px "Liberation Serif",serif',fill:'#000'},b:{font:'bold 54px "Liberation Serif",serif',fill:'#000'}}}});
});
const chart=echarts.init(document.getElementById('c'),null,{renderer:'canvas',width:2477,height:2825});
chart.setOption({animation:false,backgroundColor:'#fff',grid,xAxis,yAxis,series,graphic,
  visualMap:{show:false,type:'continuous',min:1,max:257,dimension:2,seriesIndex:series.map((_,i)=>i),inRange:{color:ramp}}});
// The reference field is smooth: soften the readings' cell edges on screen, limited to the plot boxes.
const clip="path('"+L.map(p=>`M${p.l} ${p.t}H${p.r}V${p.b}H${p.l}Z`).join(' ')+"')";
function soften(){
  const f=document.querySelector('canvas[data-zr-dom-id="zr_1"]'),q=document.querySelector('canvas[data-zr-dom-id="zr_2"]');
  if(f){f.style.filter='blur(9px)';f.style.clipPath=clip;}
  if(q){q.style.filter='blur(4px)';q.style.clipPath=clip;}
}
soften();chart.on('finished',soften);
</script></body></html>
